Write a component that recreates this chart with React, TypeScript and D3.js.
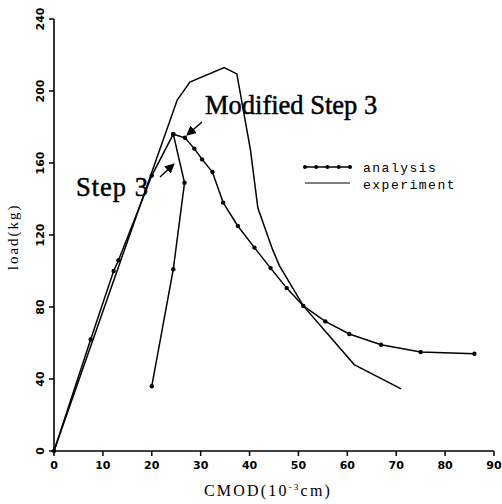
import React, { useEffect, useRef } from 'react';
import * as d3 from 'd3';

// analysis: common rising branch, then the two post-peak branches
const riseX = [0, 7.5, 12.2, 13.2, 20, 24.4];
const riseY = [0, 62, 100, 106, 153, 176];
const step3X = [24.4, 26.7, 24.4, 20];
const step3Y = [176, 149, 101, 36];
const modX = [24.4, 26.8, 28.7, 30.3, 32.4, 34.6, 37.6, 41, 44.3, 47.6, 51, 55.5, 60.4, 66.9, 75, 86];
const modY = [176, 174, 168, 162, 155, 138, 125, 113, 101.6, 90.5, 80.6, 72, 65, 59, 55, 54];
// experiment
const expX = [0, 12.5, 25.2, 27.8, 34.8, 37.4, 40.2, 41.7, 44.7, 46.1, 51, 61.4, 71];
const expY = [0, 97, 195, 205, 213, 209.5, 167, 135, 112, 103, 80.6, 48, 34.5];

const xTicks = [0, 10, 20, 30, 40, 50, 60, 70, 80, 90];
const yTicks = [0, 40, 80, 120, 160, 200, 240];

export default function App() {
  const svgRef = useRef<SVGSVGElement>(null);

  useEffect(() => {
    if (!svgRef.current) return;
    const svg = d3.select(svgRef.current);
    svg.selectAll('*').remove();

    const x = d3.scaleLinear().domain([0, 90]).range([54, 494]);
    const y = d3.scaleLinear().domain([0, 240]).range([451, 19]);

    const zip = (xs: number[], ys: number[]) => xs.map((v, i) => [v, ys[i]] as [number, number]);
    const line = d3.line<[number, number]>().x(d => x(d[0])).y(d => y(d[1]));

    // axes
    svg.append('line').attr('x1', x(0)).attr('x2', x(90)).attr('y1', y(0)).attr('y2', y(0))
      .attr('stroke', '#000').attr('stroke-width', 1.6);
    svg.append('line').attr('x1', x(0)).attr('x2', x(0)).attr('y1', y(0)).attr('y2', y(240))
      .attr('stroke', '#000').attr('stroke-width', 1.6);

    xTicks.forEach(t => {
      svg.append('line').attr('x1', x(t)).attr('x2', x(t)).attr('y1', y(0)).attr('y2', y(0) + 5)
        .attr('stroke', '#000').attr('stroke-width', 1.5);
      svg.append('text').attr('x', x(t)).attr('y', y(0) + 18).attr('text-anchor', 'middle')
        .attr('font-family', 'DejaVu Sans').attr('font-weight', 'bold').attr('font-size', 11)
        .text(String(t));
    });
    yTicks.forEach(t => {
      svg.append('line').attr('x1', x(0) - 5).attr('x2', x(0)).attr('y1', y(t)).attr('y2', y(t))
        .attr('stroke', '#000').attr('stroke-width', 1.5);
      svg.append('text')
        .attr('transform', `translate(${x(0) - 10},${y(t)}) rotate(-90)`)
        .attr('text-anchor', 'middle')
        .attr('font-family', 'DejaVu Sans').attr('font-weight', 'bold').attr('font-size', 11)
        .text(String(t));
    });

    // axis titles
    svg.append('text')
      .attr('transform', `translate(18,${y(119)}) rotate(-90)`)
      .attr('text-anchor', 'middle').attr('font-family', 'Liberation Serif').attr('font-size', 15)
      .attr('letter-spacing', 2).text('load(kg)');
    const xt = svg.append('text').attr('x', 268).attr('y', 496).attr('text-anchor', 'middle')
      .attr('font-family', 'Liberation Serif').attr('font-size', 16).attr('letter-spacing', 2.2);
    xt.append('tspan').text('CMOD(10');
    xt.append('tspan').attr('dy', -6).attr('font-size', 9).text('-3');
    xt.append('tspan').attr('dy', 6).text('cm)');

    // experiment
    svg.append('path').datum(zip(expX, expY)).attr('d', line)
      .attr('fill', 'none').attr('stroke', '#000').attr('stroke-width', 1.5);

    // analysis
    const analysis = [zip(riseX, riseY), zip(step3X, step3Y), zip(modX, modY)];
    analysis.forEach(pts => {
      svg.append('path').datum(pts).attr('d', line)
        .attr('fill', 'none').attr('stroke', '#000').attr('stroke-width', 1.5);
      svg.append('g').selectAll('circle').data(pts).join('circle')
        .attr('cx', d => x(d[0])).attr('cy', d => y(d[1])).attr('r', 2.2).attr('fill', '#000');
    });

    // legend
    const lx = 305, lx2 = 350;
    svg.append('line').attr('x1', lx).attr('x2', lx2).attr('y1', 167).attr('y2', 167)
      .attr('stroke', '#000').attr('stroke-width', 1.5);
    d3.range(5).forEach(i => {
      svg.append('circle').attr('cx', lx + i * (lx2 - lx) / 4).attr('cy', 167).attr('r', 2).attr('fill', '#000');
    });
    svg.append('line').attr('x1', lx).attr('x2', lx2).attr('y1', 183).attr('y2', 183)
      .attr('stroke', '#000').attr('stroke-width', 1.2);
    svg.append('text').attr('x', 363).attr('y', 172).attr('font-family', 'Liberation Mono')
      .attr('font-size', 13).attr('letter-spacing', 1.5).text('analysis');
    svg.append('text').attr('x', 363).attr('y', 189).attr('font-family', 'Liberation Mono')
      .attr('font-size', 13).attr('letter-spacing', 1.5).text('experiment');

    // annotations
    svg.append('text').attr('x', 205).attr('y', 114).attr('font-family', 'Liberation Serif')
      .attr('font-size', 26.5).attr('stroke', '#000').attr('stroke-width', 0.5).text('Modified Step 3');
    svg.append('text').attr('x', 76).attr('y', 196).attr('font-family', 'Liberation Serif')
      .attr('font-size', 26.5).attr('letter-spacing', 1).attr('stroke', '#000').attr('stroke-width', 0.5)
      .text('Step 3');

    const defs = svg.append('defs');
    defs.append('marker').attr('id', 'ah').attr('viewBox', '0 0 10 10').attr('refX', 9).attr('refY', 5)
      .attr('markerWidth', 7).attr('markerHeight', 7).attr('orient', 'auto-start-reverse')
      .append('path').attr('d', 'M0,0 L10,5 L0,10 z').attr('fill', '#000');
    svg.append('line').attr('x1', 202).attr('y1', 122).attr('x2', 187).attr('y2', 135)
      .attr('stroke', '#000').attr('stroke-width', 1.4).attr('marker-end', 'url(#ah)');
    svg.append('line').attr('x1', 160).attr('y1', 177).attr('x2', 174).attr('y2', 164)
      .attr('stroke', '#000').attr('stroke-width', 1.4).attr('marker-end', 'url(#ah)');
  }, []);

  return (
    <svg ref={svgRef} width={502} height={504}
      style={{ position: 'absolute', left: 0, top: 0, background: '#fff' }} />
  );
}
